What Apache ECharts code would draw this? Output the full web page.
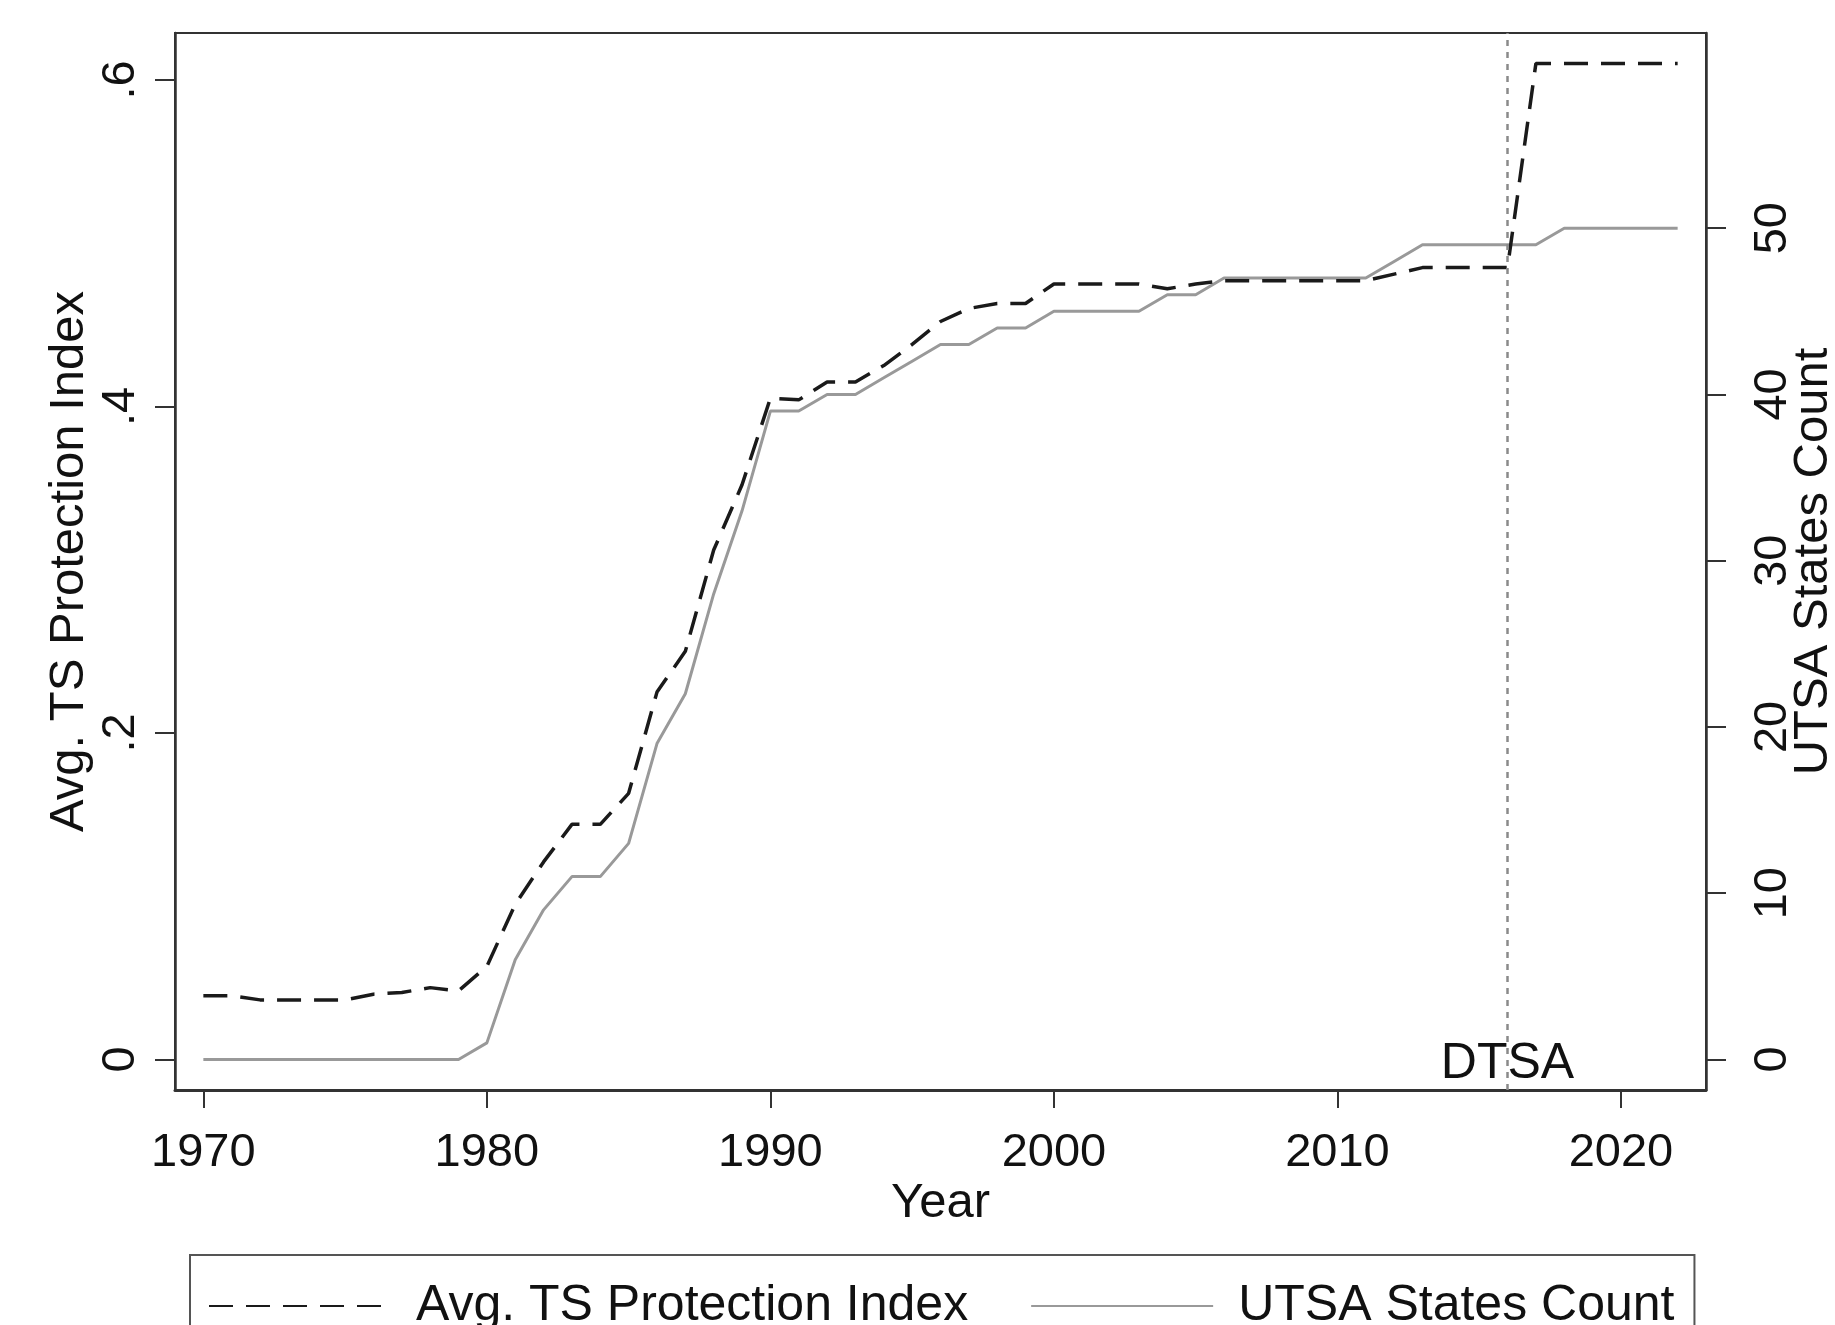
<!DOCTYPE html>
<html>
<head>
<meta charset="utf-8">
<script src="https://cdn.jsdelivr.net/npm/echarts@6/dist/echarts.min.js"></script>
<style>
html,body{margin:0;padding:0;background:#fff;}
#chart{width:1835px;height:1325px;}
</style>
</head>
<body>
<div id="chart"></div>
<script>
// ---- data ----
const years = [1970,1971,1972,1973,1974,1975,1976,1977,1978,1979,
  1980,1981,1982,1983,1984,1985,1986,1987,1988,1989,
  1990,1991,1992,1993,1994,1995,1996,1997,1998,1999,
  2000,2001,2002,2003,2004,2005,2006,2007,2008,2009,
  2010,2011,2012,2013,2014,2015,2016,2017,2018,2019,
  2020,2021,2022];
const tsIndex = [0.039,0.039,0.0365,0.0365,0.0365,0.0365,0.040,0.041,0.044,0.042,
  0.057,0.095,0.121,0.144,0.144,0.163,0.225,0.250,0.312,0.352,
  0.405,0.404,0.415,0.415,0.425,0.438,0.452,0.460,0.463,0.463,
  0.475,0.475,0.475,0.475,0.472,0.475,0.477,0.477,0.477,0.477,
  0.477,0.477,0.481,0.485,0.485,0.485,0.485,0.610,0.610,0.610,
  0.610,0.610,0.610];
const utsaCount = [0,0,0,0,0,0,0,0,0,0,
  1,6,9,11,11,13,19,22,28,33,
  39,39,40,40,41,42,43,43,44,44,
  45,45,45,45,46,46,47,47,47,47,
  47,47,48,49,49,49,49,49,50,50,
  50,50,50];
const xTicks = [1970,1980,1990,2000,2010,2020];
const leftTicks = [0,0.2,0.4,0.6];
const rightTicks = [0,10,20,30,40,50];
const seriesNames = ['Avg. TS Protection Index','UTSA States Count'];
const axisNames = {x:'Year', left:'Avg. TS Protection Index', right:'UTSA States Count'};
const dtsaYear = 2016;
const dtsaLabel = 'DTSA';
const dtsaLabelY = -0.003;

// ---- chart ----
const FONT = '"Liberation Sans", Arial, Helvetica, sans-serif';
const TXT = '#111';
const AX = '#333';
const chart = echarts.init(document.getElementById('chart'), null, {renderer:'canvas'});
const idxData = years.map((y,i)=>[y, tsIndex[i]]);
const cntData = years.map((y,i)=>[y, utsaCount[i]]);

chart.setOption({
  animation:false,
  backgroundColor:'#fff',
  textStyle:{fontFamily:FONT, color:TXT},
  grid:{left:175, right:129, top:33, bottom:235, show:true, borderColor:AX, borderWidth:2,
        backgroundColor:'#fff', containLabel:false, outerBoundsMode:'none'},
  xAxis:{
    type:'value', min:1969, max:2023,
    name:axisNames.x, nameLocation:'middle', nameGap:89, nameMoveOverlap:false,
    nameTextStyle:{fontSize:49, color:TXT, fontFamily:FONT},
    axisLine:{show:true, onZero:false, lineStyle:{color:AX, width:3}},
    axisTick:{show:true, length:18, lineStyle:{color:AX, width:2}, customValues:xTicks},
    axisLabel:{show:true, fontSize:47, color:TXT, fontFamily:FONT, margin:40, customValues:xTicks, formatter:v=>String(v)},
    splitLine:{show:false}
  },
  yAxis:[{
    type:'value', min:-0.0187, max:0.6287, position:'left',
    name:axisNames.left, nameLocation:'middle', nameGap:81, nameRotate:90, nameMoveOverlap:false,
    nameTextStyle:{fontSize:49, color:TXT, fontFamily:FONT},
    axisLine:{show:true, onZero:false, lineStyle:{color:AX, width:2.5}},
    axisTick:{show:true, length:20, lineStyle:{color:AX, width:2}, customValues:leftTicks},
    axisLabel:{show:true, rotate:90, fontSize:47, color:TXT, fontFamily:FONT, margin:30, customValues:leftTicks,
      formatter:v=>{ if (Math.abs(v)<1e-9) return '0'; return (Math.round(v*10)/10).toString().replace(/^0/,''); }},
    splitLine:{show:false}
  },{
    type:'value', min:-1.835, max:61.74, position:'right',
    name:axisNames.right, nameLocation:'middle', nameGap:83, nameRotate:90, nameMoveOverlap:false,
    nameTextStyle:{fontSize:49, color:TXT, fontFamily:FONT},
    axisLine:{show:true, onZero:false, lineStyle:{color:AX, width:2.5}},
    axisTick:{show:true, length:20, lineStyle:{color:AX, width:2}, customValues:rightTicks},
    axisLabel:{show:true, rotate:90, fontSize:47, color:TXT, fontFamily:FONT, margin:44, customValues:rightTicks, formatter:v=>String(v)},
    splitLine:{show:false}
  }],
  legend:{
    show:true, left:190, top:1255, orient:'horizontal',
    padding:[26,20,40,18], itemGap:62, itemWidth:182, itemHeight:20,
    borderColor:'#555', borderWidth:2, backgroundColor:'#fff',
    itemStyle:{opacity:0, borderWidth:0},
    textStyle:{fontSize:50, color:TXT, fontFamily:FONT, padding:[0,0,0,20]},
    data:seriesNames
  },
  series:[{
    name:seriesNames[0], type:'line', yAxisIndex:0, data:idxData,
    symbol:'none', showSymbol:false,
    lineStyle:{color:'#1a1a1a', width:3.5, type:[24,13]},
    itemStyle:{color:'#1a1a1a'},
    z:3,
    markLine:{
      silent:true, symbol:['none','none'],
      lineStyle:{color:'#8a8a8a', width:2.5, type:[6,6]},
      label:{show:false},
      data:[{xAxis:dtsaYear}]
    },
    markPoint:{
      silent:true, symbol:'circle', symbolSize:0,
      label:{show:true, position:'inside', formatter:dtsaLabel, fontSize:50, color:TXT, fontFamily:FONT},
      data:[{coord:[dtsaYear, dtsaLabelY]}]
    }
  },{
    name:seriesNames[1], type:'line', yAxisIndex:1, data:cntData,
    symbol:'none', showSymbol:false,
    lineStyle:{color:'#999999', width:3, type:'solid'},
    itemStyle:{color:'#999999'},
    z:2
  }]
});
</script>
</body>
</html>
